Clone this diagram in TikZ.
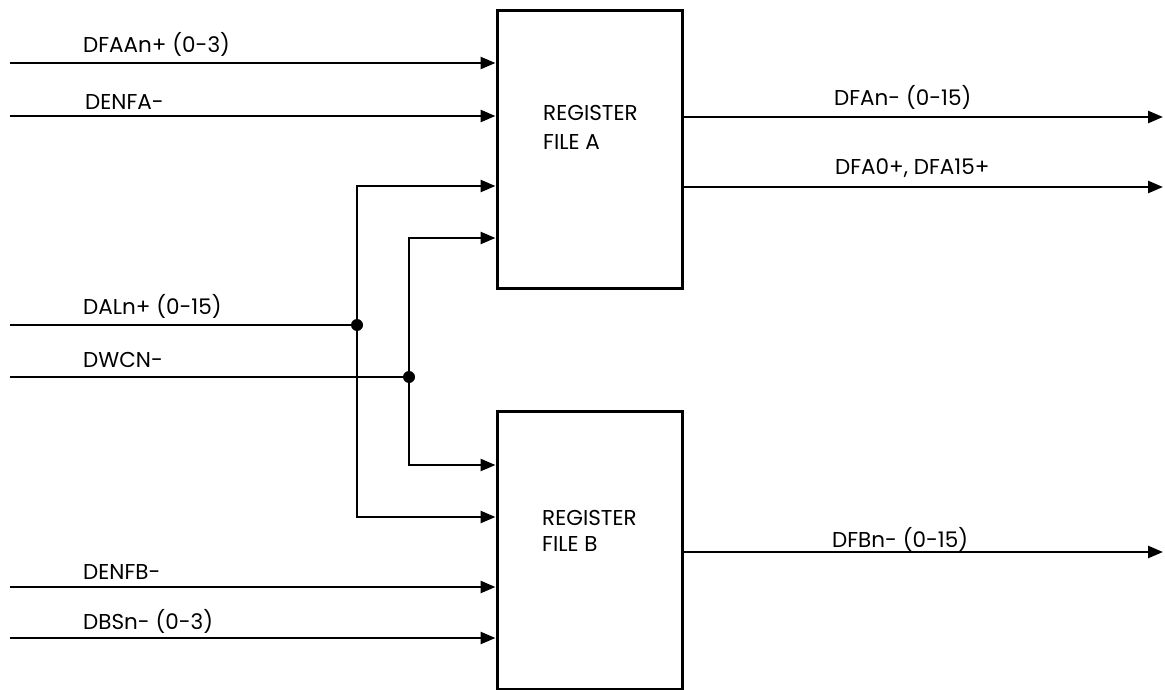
\documentclass[tikz,border=0pt]{standalone}
\usepackage{fontspec}
\setmainfont{Poppins}
\usetikzlibrary{arrows.meta}
\begin{document}
\begin{tikzpicture}[x=1pt,y=-1pt,
  wire/.style={line width=2.5pt},
  sig/.style={wire,-{Triangle[length=15pt,width=12pt]}},
  regbox/.style={draw,line width=3pt,minimum width=185pt,minimum height=278pt,inner sep=0pt},
  lbl/.style={anchor=base west,inner sep=0pt,font=\fontsize{21.5}{28}\selectfont},
  jdot/.style={circle,fill=black,inner sep=0pt,minimum size=12pt}]
\useasboundingbox (0,0) rectangle (1165,690);
% boxes
\node[regbox] (A) at (589.5,149.5) {};
\node[regbox] (B) at (589.5,550) {};
\node[lbl,align=left,font=\fontsize{21.5}{28.5}\selectfont] (At) at (543,149.5) {REGISTER\\FILE A};
\node[lbl,align=left,font=\fontsize{21.5}{26.5}\selectfont] (Bt) at (542,551.5) {REGISTER\\FILE B};
% input coordinates
\coordinate (iA1) at (10,63);
\coordinate (iA2) at (10,116);
\coordinate (iB3) at (10,587);
\coordinate (iB4) at (10,638);
\coordinate (iDAL) at (10,325);
\coordinate (iDWC) at (10,377);
\node[jdot] (j1) at (357,325) {};
\node[jdot] (j2) at (409,377) {};
\coordinate (tA3) at (357,186);
\coordinate (tA4) at (409,238);
\coordinate (tB1) at (409,465);
\coordinate (tB2) at (357,517);
% outputs
\coordinate (oA1) at (1163,117);
\coordinate (oA2) at (1163,187);
\coordinate (oB1) at (1163,552);
% input wires
\draw[sig] (iA1) -- (iA1 -| A.west);
\draw[sig] (iA2) -- (iA2 -| A.west);
\draw[sig] (iB3) -- (iB3 -| B.west);
\draw[sig] (iB4) -- (iB4 -| B.west);
\draw[wire] (iDAL) -- (j1.center);
\draw[wire] (iDWC) -- (j2.center);
\draw[sig] (j1.center) -- (tA3) -- (tA3 -| A.west);
\draw[sig] (j1.center) -- (tB2) -- (tB2 -| B.west);
\draw[sig] (j2.center) -- (tA4) -- (tA4 -| A.west);
\draw[sig] (j2.center) -- (tB1) -- (tB1 -| B.west);
% output wires
\draw[sig] (oA1 -| A.east) -- (oA1);
\draw[sig] (oA2 -| A.east) -- (oA2);
\draw[sig] (oB1 -| B.east) -- (oB1);
% labels
\node[lbl] (l1) at (83,52.5) {DFAAn+ (0-3)};
\node[lbl] (l2) at (85,109.5) {DENFA-};
\node[lbl] (l3) at (83,314) {DALn+ (0-15)};
\node[lbl] (l4) at (83,367) {DWCN-};
\node[lbl] (l5) at (83,579) {DENFB-};
\node[lbl] (l6) at (83,629) {DBSn- (0-3)};
\node[lbl] (l7) at (834,105.5) {DFAn- (0-15)};
\node[lbl] (l8) at (835,175) {DFA0+, DFA15+};
\node[lbl] (l9) at (832,547) {DFBn- (0-15)};
\end{tikzpicture}
\end{document}
